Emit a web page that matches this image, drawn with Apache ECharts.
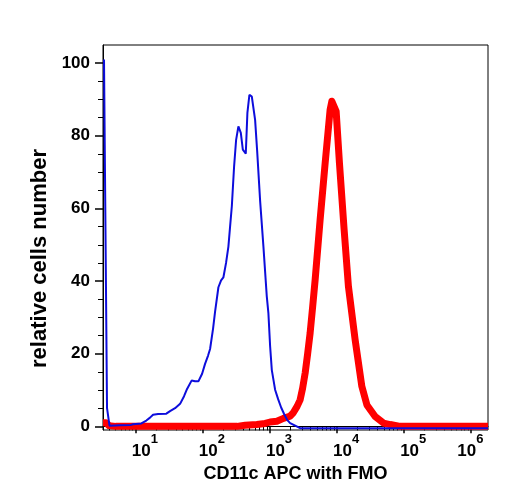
<!DOCTYPE html>
<html>
<head>
<meta charset="utf-8">
<script src="https://cdn.jsdelivr.net/npm/echarts@6/dist/echarts.min.js"></script>
<style>
  html, body { margin: 0; padding: 0; background: #fff; }
  #chart { width: 508px; height: 500px; }
</style>
</head>
<body>
<div id="chart"></div>
<script>
// x positions are log10 of the CD11c APC intensity
const fmoExp = [0.527, 0.572, 0.609, 0.766, 0.930, 0.960, 1.084, 1.158, 1.213, 1.258,
  1.333, 1.456, 1.511, 1.586, 1.661, 1.720, 1.765, 1.832, 1.884, 1.934,
  1.989, 2.033, 2.078, 2.108, 2.153, 2.182, 2.232, 2.272, 2.306, 2.346,
  2.381, 2.406, 2.432, 2.466, 2.496, 2.530, 2.566, 2.596, 2.640, 2.664,
  2.694, 2.730, 2.779, 2.809, 2.854, 2.903, 2.953, 2.977, 3.003, 3.028,
  3.077, 3.122, 3.167, 3.211, 3.256, 3.301, 3.376, 3.450, 4.5, 5.5, 6.25];
const fmoCount = [101, 5, 0.2, 0.3, 0.4, 0.6, 0.8, 1.6, 2.4, 3.2,
  3.4, 3.5, 4.2, 5.0, 6.2, 8.3, 10.3, 12.6, 12.4, 12.4,
  14.5, 17.2, 19.5, 21.3, 27, 31.5, 38.3, 40.2, 41, 45,
  49.5, 55, 60.6, 71.6, 78.9, 82.6, 80.8, 76.2, 75.1, 86.3,
  91.3, 90.8, 84.4, 76, 62, 49.5, 35.8, 31.2, 22, 15.5,
  10.1, 7.5, 5.2, 3.4, 1.8, 0.9, 0.2, -0.5, -0.5, -0.5, -0.5];

const stainExp = [0.512, 0.557, 0.602, 0.7, 1.5, 2.51, 2.63, 2.804, 2.928, 3.003,
  3.103, 3.201, 3.301, 3.350, 3.405, 3.450, 3.487, 3.525, 3.562, 3.599,
  3.637, 3.674, 3.748, 3.823, 3.897, 3.923, 3.987, 4.036, 4.106, 4.170,
  4.270, 4.370, 4.445, 4.568, 4.692, 4.792, 4.941, 5.5, 6.25];
const stainCount = [1.0, 1.0, 0.2, 0, 0, 0, 0.3, 0.5, 0.8, 1.2,
  1.4, 2.2, 2.8, 3.8, 5.5, 7.3, 10.5, 14.7, 20, 25.7,
  33, 40.4, 56.9, 72.5, 87.2, 89.5, 86.7, 72.5, 54.1, 38.5,
  23.8, 11, 5.9, 2.7, 0.9, 0.5, 0, 0, 0];

const decadeTicks = [10, 100, 1000, 10000, 100000, 1000000];
const yTicks = [0, 20, 40, 60, 80, 100];
const yMinorTicks = [5, 10, 15, 25, 30, 35, 45, 50, 55, 65, 70, 75, 85, 90, 95];

const xMin = Math.pow(10, 0.512);
const xMax = Math.pow(10, 6.25);

// 2..9 times each decade, inside the axis range
const xMinorTicks = [];
for (let d = 1; d <= 1e5; d *= 10) {
  for (let k = 2; k <= 9; k++) {
    if (k * d >= xMin && k * d <= xMax) xMinorTicks.push(k * d);
  }
}

const toPoints = (exps, counts) => exps.map((e, i) => [Math.pow(10, e), counts[i]]);

const font = "'Liberation Sans', Arial, Helvetica, sans-serif";

const chart = echarts.init(document.getElementById('chart'), null, { renderer: 'canvas' });

chart.setOption({
  animation: false,
  backgroundColor: '#fff',
  grid: {
    left: 103, right: 20, top: 45, bottom: 70,
    show: true, borderColor: '#000', borderWidth: 1
  },
  xAxis: [
    {
      type: 'log',
      min: xMin,
      max: xMax,
      name: 'CD11c APC with FMO',
      nameLocation: 'middle',
      nameGap: 34,
      nameTextStyle: { fontFamily: font, fontWeight: 'bold', fontSize: 18, color: '#000' },
      axisLine: { show: true, lineStyle: { color: '#000', width: 1 } },
      axisTick: { show: true, customValues: decadeTicks, length: 7, lineStyle: { color: '#000', width: 1.5 } },
      axisLabel: {
        customValues: decadeTicks,
        align: 'left',
        margin: 3,
        padding: [0, 0, 0, -4],
        formatter: v => {
          const p = Math.round(Math.log10(v));
          // the last label is pulled back inside the frame
          return (p === 6 ? '{e|10}' : '{b|10}') + '{s|' + p + '}{h| }';
        },
        rich: {
          b: { fontFamily: font, fontWeight: 'bold', fontSize: 17, color: '#000', lineHeight: 18, verticalAlign: 'bottom' },
          e: { fontFamily: font, fontWeight: 'bold', fontSize: 17, color: '#000', lineHeight: 18, verticalAlign: 'bottom', padding: [0, 0, 0, -10] },
          s: { fontFamily: font, fontWeight: 'bold', fontSize: 13, color: '#000', lineHeight: 22, verticalAlign: 'top' },
          h: { fontSize: 1, lineHeight: 27 }
        }
      },
      splitLine: { show: false },
      minorTick: { show: false }
    },
    {
      type: 'log',
      min: xMin,
      max: xMax,
      position: 'bottom',
      axisLine: { show: false },
      axisTick: { show: true, customValues: xMinorTicks, length: 4, lineStyle: { color: '#000', width: 1 } },
      axisLabel: { show: false },
      splitLine: { show: false }
    }
  ],
  yAxis: [
    {
      type: 'value',
      min: -1,
      max: 105,
      name: 'relative cells number',
      nameLocation: 'middle',
      nameGap: 48,
      nameTextStyle: {
        fontFamily: font, fontWeight: 'bold', fontSize: 22, color: '#000',
        padding: [0, 42, 0, 0]
      },
      axisLine: { show: true, lineStyle: { color: '#000', width: 1 } },
      axisTick: { show: true, customValues: yTicks, length: 8, lineStyle: { color: '#000', width: 1.5 } },
      axisLabel: {
        customValues: yTicks,
        margin: 13,
        fontFamily: font, fontWeight: 'bold', fontSize: 17, color: '#000'
      },
      splitLine: { show: false }
    },
    {
      type: 'value',
      min: -1,
      max: 105,
      position: 'left',
      offset: 0,
      axisLine: { show: false },
      axisTick: { show: true, customValues: yMinorTicks, length: 5, lineStyle: { color: '#000', width: 1 } },
      axisLabel: { show: false },
      splitLine: { show: false }
    }
  ],
  series: [
    {
      name: 'CD11c APC',
      type: 'line',
      xAxisIndex: 0,
      yAxisIndex: 0,
      data: toPoints(stainExp, stainCount),
      showSymbol: false,
      symbol: 'none',
      lineStyle: { color: '#ff0000', width: 7, join: 'round' },
      z: 2
    },
    {
      name: 'FMO',
      type: 'line',
      xAxisIndex: 0,
      yAxisIndex: 0,
      data: toPoints(fmoExp, fmoCount),
      showSymbol: false,
      symbol: 'none',
      lineStyle: { color: '#0d0ddc', width: 2 },
      z: 3
    }
  ]
});
</script>
</body>
</html>
